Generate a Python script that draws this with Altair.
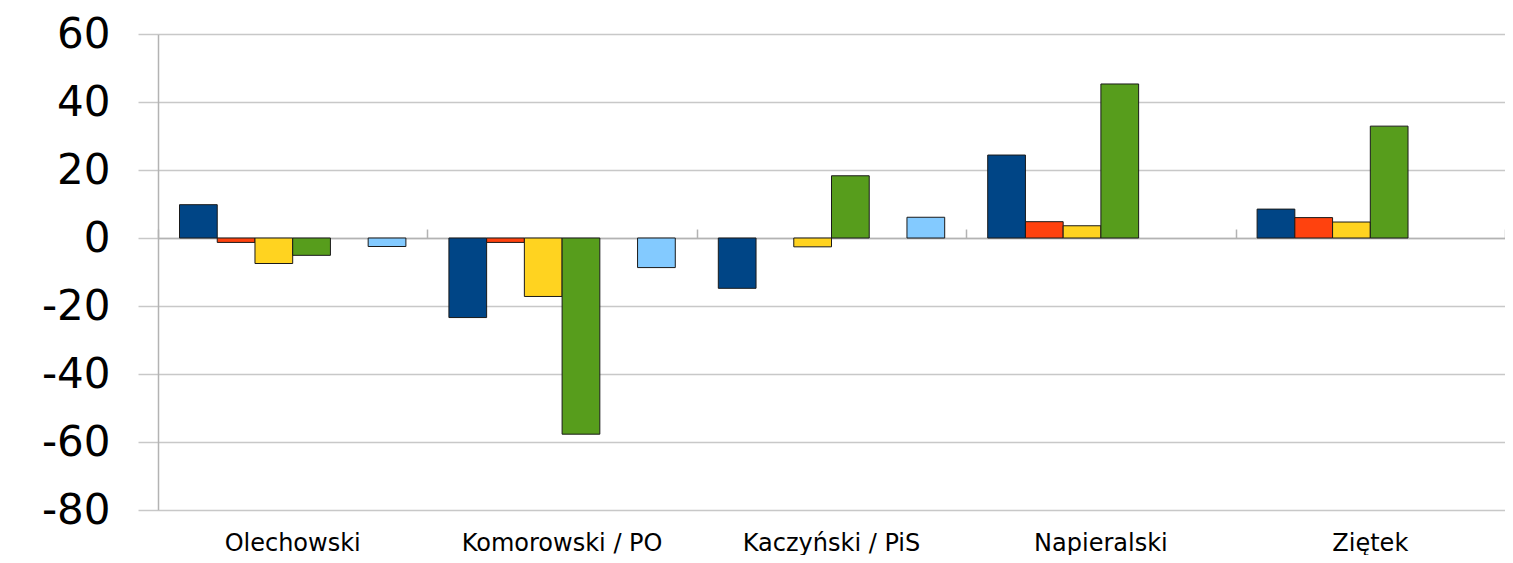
import altair as alt
import pandas as pd

categories = ["Olechowski", "Komorowski / PO", "Kaczyński / PiS", "Napieralski", "Ziętek"]
series = ["Seria 1", "Seria 2", "Seria 3", "Seria 4", "Seria 5", "Seria 6"]
colors = ["#004586", "#ff420e", "#ffd320", "#579d1c", "#7e0021", "#83caff"]

s1 = [9.8, -23.4, -14.8, 24.4, 8.5]
s2 = [-1.3, -1.3, None, 4.8, 6.0]
s3 = [-7.5, -17.2, -2.6, 3.6, 4.7]
s4 = [-5.1, -57.7, 18.3, 45.3, 32.9]
s5 = [None, None, None, None, None]
s6 = [-2.5, -8.7, 6.1, None, None]

y_ticks = [-80, -60, -40, -20, 0, 20, 40, 60]

rows = []
for name, vals in zip(series, [s1, s2, s3, s4, s5, s6]):
    for c, v in zip(categories, vals):
        if v is not None:
            rows.append({"cat": c, "series": name, "value": v})
df = pd.DataFrame(rows)
cat_df = pd.DataFrame({"cat": categories})

xscale = alt.Scale(domain=categories, paddingInner=0, paddingOuter=0)
font = "DejaVu Sans"

bars = alt.Chart(df).mark_bar(stroke="#1a1a1a", strokeWidth=1).encode(
    x=alt.X("cat:N", sort=categories, scale=xscale,
            axis=alt.Axis(title=None, labelAngle=0, domain=False, ticks=False, grid=False,
                          labelFont=font, labelFontSize=24, labelPadding=21, labelLimit=400,
                          labelColor="black")),
    xOffset=alt.XOffset("series:N", scale=alt.Scale(domain=series, paddingInner=0, paddingOuter=0.57)),
    y=alt.Y("value:Q", scale=alt.Scale(domain=[-80, 60], nice=False),
            axis=alt.Axis(values=y_ticks, title=None, grid=True, gridColor="#c8c8c8", gridWidth=1.5,
                          tickSize=20, tickColor="#c8c8c8", tickWidth=1.5,
                          domainColor="#b3b3b3", domainWidth=1.5,
                          labelFont=font, labelFontSize=42, labelPadding=28,
                          labelExpr="replace(datum.label, '\u2212', '-')",
                          labelColor="black")),
    color=alt.Color("series:N", scale=alt.Scale(domain=series, range=colors), legend=None),
)

zero_axis = alt.Chart(cat_df).mark_rule(opacity=0).encode(
    x=alt.X("cat:N", sort=categories, scale=xscale,
            axis=alt.Axis(title=None, labels=False, domain=True, domainColor="#b3b3b3", domainWidth=1.5,
                          ticks=True, tickSize=9, tickColor="#b3b3b3", tickWidth=1.5,
                          tickBand="extent", grid=False, offset=-204)),
)

chart = alt.layer(bars, zero_axis).resolve_axis(x="independent").properties(
    width=1347, height=476,
    autosize=alt.AutoSizeParams(type="none"),
    padding={"left": 150, "top": 26, "right": 0, "bottom": 45},
).configure_view(stroke=None)

chart.save("out.html", embed_options={"renderer": "svg", "actions": False})
